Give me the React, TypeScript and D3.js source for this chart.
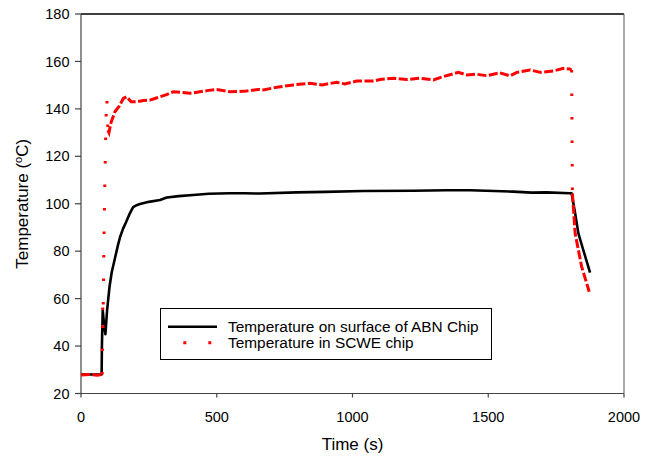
import React from "react";
import * as d3 from "d3";

// ABN chip surface temperature (black, solid)
const abnTime = [0, 76, 77, 80, 85, 90, 96, 105, 113, 125, 135, 144, 155, 165, 178, 192, 205, 217, 250, 291, 316, 360, 413, 470, 549, 600, 659, 794, 900, 1040, 1224, 1347, 1433, 1592, 1660, 1715, 1801, 1807, 1820, 1832, 1850, 1875];
const abnTemp = [28, 28, 40, 55, 49, 45, 55, 65, 71, 77, 82, 86, 89.5, 92, 95.5, 98.6, 99.4, 99.9, 100.8, 101.6, 102.6, 103.2, 103.7, 104.2, 104.4, 104.4, 104.3, 104.8, 105.0, 105.4, 105.5, 105.7, 105.7, 105.1, 104.7, 104.8, 104.4, 104.4, 96, 87.5, 80.5, 71];

// SCWE chip temperature (red, dash)
const scweTime = [0, 30, 60, 76, 78, 80, 81, 84, 88, 92, 95, 99, 103, 110, 125, 140, 156, 168, 185, 205, 230, 254, 275, 291, 315, 340, 370, 401, 438, 470, 500, 549, 610, 653, 671, 721, 782, 843, 887, 942, 972, 1015, 1077, 1101, 1150, 1200, 1249, 1298, 1334, 1390, 1421, 1457, 1494, 1543, 1580, 1605, 1654, 1691, 1740, 1777, 1800, 1807, 1810, 1820, 1844, 1872];
const scweTemp = [27.8, 28, 27.7, 28, 28, 57, 47, 80, 110, 135, 145, 131, 130, 134, 138.8, 141, 144.4, 145.1, 143, 143, 143.5, 143.7, 144.5, 145.1, 146, 147.2, 147, 146.6, 147.2, 147.8, 148.2, 147.2, 147.5, 148.2, 148, 149.1, 150.1, 150.8, 150.1, 151.2, 150.5, 151.7, 151.7, 152.4, 152.9, 152.4, 152.9, 152.2, 153.6, 155.4, 154.3, 154.6, 154, 155.2, 153.9, 155.4, 156.4, 155.4, 156, 157.1, 156.8, 156.4, 104.4, 87.5, 73.5, 62.9];

const xTicks = [0, 500, 1000, 1500, 2000];
const yTicks = [20, 40, 60, 80, 100, 120, 140, 160, 180];

const legendLabels = ["Temperature on surface of ABN Chip", "Temperature in SCWE chip"];

const W = 653;
const H = 456;
const M = { left: 81, right: 624, top: 14, bottom: 393.5 };
const FONT = "'Liberation Sans', Arial, sans-serif";

export default function App() {
  const x = d3.scaleLinear().domain([0, 2000]).range([M.left, M.right]);
  const y = d3.scaleLinear().domain([20, 180]).range([M.bottom, M.top]);

  const abnPts: [number, number][] = abnTime.map((t, i) => [t, abnTemp[i]]);
  const scwePts: [number, number][] = scweTime.map((t, i) => [t, scweTemp[i]]);

  const line = d3
    .line<[number, number]>()
    .x((d) => x(d[0]))
    .y((d) => y(d[1]));

  // split red series into runs: near-vertical segments drawn dotted, others dashed
  const runs: { steep: boolean; pts: [number, number][] }[] = [];
  for (let i = 0; i < scwePts.length - 1; i++) {
    const a = scwePts[i];
    const b = scwePts[i + 1];
    const dx = Math.abs(x(b[0]) - x(a[0]));
    const dy = Math.abs(y(b[1]) - y(a[1]));
    const steep = dy / Math.max(dx, 0.01) > 20;
    const last = runs[runs.length - 1];
    if (last && last.steep === steep) last.pts.push(b);
    else runs.push({ steep, pts: [a, b] });
  }

  return (
    <svg
      width={W}
      height={H}
      style={{ position: "absolute", left: 0, top: 0, background: "#fff" }}
      fontFamily={FONT}
    >
      <rect x={0} y={0} width={W} height={H} fill="#fff" />
      {/* frame */}
      <line x1={M.left} x2={M.right} y1={M.top} y2={M.top} stroke="#000" strokeWidth={1.3} />
      <line x1={M.right} x2={M.right} y1={M.top} y2={M.bottom} stroke="#555" strokeWidth={1} />
      <line x1={M.left} x2={M.left} y1={M.top} y2={M.bottom} stroke="#444" strokeWidth={1.2} />
      <line x1={M.left} x2={M.right} y1={M.bottom} y2={M.bottom} stroke="#444" strokeWidth={1.2} />

      {/* y ticks */}
      {yTicks.map((t) => (
        <g key={"y" + t}>
          <line x1={M.left - 6} x2={M.left} y1={y(t)} y2={y(t)} stroke="#444" strokeWidth={1.2} />
          <text x={M.left - 11.5} y={y(t)} dy="0.35em" textAnchor="end" fontSize={14.5} fill="#000">
            {t}
          </text>
        </g>
      ))}
      {/* x ticks */}
      {xTicks.map((t) => (
        <g key={"x" + t}>
          <line x1={x(t)} x2={x(t)} y1={M.bottom} y2={M.bottom + 4} stroke="#444" strokeWidth={1.2} />
          <text x={x(t)} y={421.7} textAnchor="middle" fontSize={14.5} fill="#000">
            {t}
          </text>
        </g>
      ))}

      {/* axis titles */}
      <text x={(M.left + M.right) / 2} y={450} textAnchor="middle" fontSize={17} fill="#000">
        Time (s)
      </text>
      <text
        transform={`translate(28, ${(M.top + M.bottom) / 2}) rotate(-90)`}
        textAnchor="middle"
        fontSize={17}
        fill="#000"
      >
        Temperature (<tspan dy={-6} fontSize={11}>o</tspan>
        <tspan dy={6}>C)</tspan>
      </text>

      {/* series */}
      <path d={line(abnPts) || ""} fill="none" stroke="#000" strokeWidth={2.6} strokeLinejoin="round" />
      {runs.map((r, i) => (
        <path
          key={"r" + i}
          d={line(r.pts) || ""}
          fill="none"
          stroke="#ff0000"
          strokeWidth={3}
          strokeDasharray={r.steep ? "2.5,21" : "9,2.5"}
        />
      ))}

      {/* legend */}
      <rect x={160.5} y={308.5} width={331} height={51} fill="#fff" stroke="#000" strokeWidth={1} />
      <line x1={168} x2={217} y1={326.7} y2={326.7} stroke="#000" strokeWidth={2.6} />
      <line
        x1={168}
        x2={217}
        y1={342.7}
        y2={342.7}
        stroke="#ff0000"
        strokeWidth={3}
        strokeDasharray="3,22"
        strokeDashoffset={9.7}
      />
      <text x={228} y={332} fontSize={15.4} fill="#000">
        {legendLabels[0]}
      </text>
      <text x={228} y={348} fontSize={15.4} fill="#000">
        {legendLabels[1]}
      </text>
    </svg>
  );
}
